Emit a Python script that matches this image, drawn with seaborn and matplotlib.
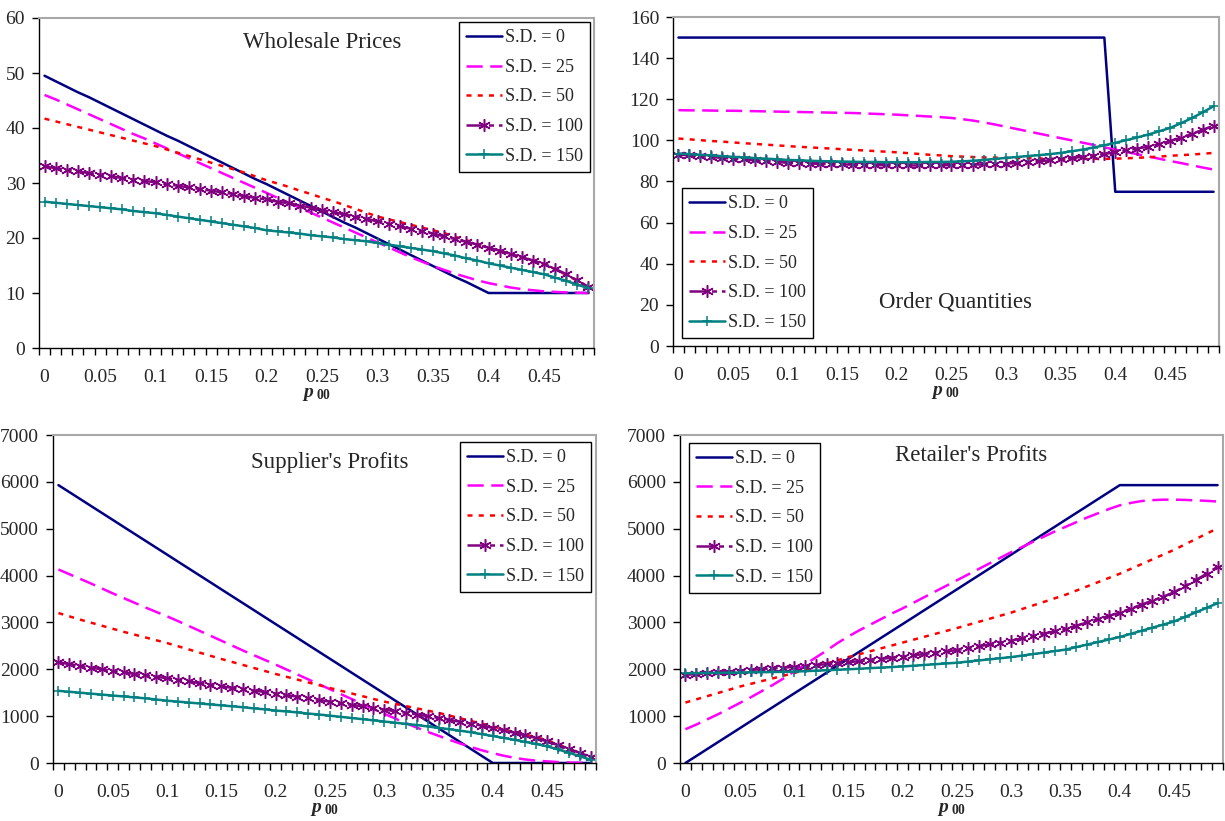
import numpy as np
import pandas as pd
import matplotlib
matplotlib.use("Agg")
import matplotlib.pyplot as plt
import seaborn as sns

# ---------------- data ----------------
P00 = [0.00, 0.01, 0.02, 0.03, 0.04, 0.05, 0.06, 0.07, 0.08, 0.09,
       0.10, 0.11, 0.12, 0.13, 0.14, 0.15, 0.16, 0.17, 0.18, 0.19,
       0.20, 0.21, 0.22, 0.23, 0.24, 0.25, 0.26, 0.27, 0.28, 0.29,
       0.30, 0.31, 0.32, 0.33, 0.34, 0.35, 0.36, 0.37, 0.38, 0.39,
       0.40, 0.41, 0.42, 0.43, 0.44, 0.45, 0.46, 0.47, 0.48, 0.49]
TICK_POS = [0.00, 0.05, 0.10, 0.15, 0.20, 0.25, 0.30, 0.35, 0.40, 0.45]
TICK_LABELS = ["0", "0.05", "0.1", "0.15", "0.2", "0.25", "0.3", "0.35", "0.4", "0.45"]
SERIES = ["S.D. = 0", "S.D. = 25", "S.D. = 50", "S.D. = 100", "S.D. = 150"]

# Wholesale Prices
wp_sd0 = [49.5, 48.5, 47.5, 46.5, 45.6, 44.6, 43.6, 42.6, 41.6, 40.6,
          39.6, 38.6, 37.7, 36.7, 35.7, 34.7, 33.7, 32.7, 31.7, 30.7,
          29.8, 28.8, 27.8, 26.8, 25.8, 24.8, 23.8, 22.8, 21.9, 20.9,
          19.9, 18.9, 17.9, 16.9, 15.9, 14.9, 13.9, 12.9, 12.0, 11.0,
          10.0, 10.0, 10.0, 10.0, 10.0, 10.0, 10.0, 10.0, 10.0, 10.0]
wp_sd25 = [46.0, 45.2, 44.3, 43.4, 42.5, 41.6, 40.7, 39.8, 38.9, 38.1,
           37.2, 36.3, 35.4, 34.5, 33.6, 32.7, 31.8, 30.9, 30.0, 29.1,
           28.2, 27.3, 26.4, 25.5, 24.6, 23.7, 22.8, 21.9, 21.0, 20.1,
           19.2, 18.3, 17.4, 16.5, 15.7, 14.9, 14.2, 13.5, 12.9, 12.3,
           11.8, 11.4, 11.0, 10.7, 10.5, 10.3, 10.2, 10.1, 10.05, 10.0]
wp_sd50 = [41.7, 41.2, 40.7, 40.2, 39.7, 39.2, 38.7, 38.2, 37.7, 37.2,
           36.7, 36.1, 35.5, 34.9, 34.3, 33.7, 33.1, 32.5, 31.9, 31.2,
           30.5, 29.9, 29.3, 28.6, 28.0, 27.3, 26.7, 26.0, 25.3, 24.6,
           23.9, 23.4, 22.9, 22.4, 21.9, 21.4, 20.9, 20.2, 19.6, 18.9,
           18.2, 17.6, 17.0, 16.5, 15.9, 15.3, 14.3, 13.3, 12.2, 11.1]
wp_sd100 = [33.0, 32.7, 32.4, 32.1, 31.8, 31.5, 31.2, 30.9, 30.6, 30.4,
            30.1, 29.8, 29.5, 29.2, 28.9, 28.6, 28.3, 28.0, 27.6, 27.3,
            27.0, 26.6, 26.3, 25.9, 25.5, 25.1, 24.7, 24.3, 23.9, 23.5,
            23.0, 22.6, 22.1, 21.7, 21.2, 20.8, 20.3, 19.8, 19.3, 18.8,
            18.2, 17.7, 17.1, 16.5, 15.9, 15.3, 14.4, 13.4, 12.3, 11.1]
wp_sd150 = [26.6, 26.4, 26.2, 26.0, 25.8, 25.6, 25.4, 25.2, 24.9, 24.7,
            24.5, 24.2, 23.9, 23.6, 23.3, 23.0, 22.7, 22.4, 22.1, 21.8,
            21.4, 21.2, 21.0, 20.8, 20.5, 20.3, 20.1, 19.8, 19.6, 19.4,
            19.1, 18.8, 18.5, 18.2, 17.9, 17.6, 17.2, 16.8, 16.3, 15.9,
            15.4, 15.0, 14.6, 14.2, 13.8, 13.4, 12.8, 12.2, 11.5, 10.9]

# Order Quantities
oq_sd0 = [150, 150, 150, 150, 150, 150, 150, 150, 150, 150,
          150, 150, 150, 150, 150, 150, 150, 150, 150, 150,
          150, 150, 150, 150, 150, 150, 150, 150, 150, 150,
          150, 150, 150, 150, 150, 150, 150, 150, 150, 150,
          75, 75, 75, 75, 75, 75, 75, 75, 75, 75]
oq_sd25 = [114.7, 114.6, 114.6, 114.5, 114.4, 114.4, 114.3, 114.2, 114.1, 114.0,
           113.9, 113.8, 113.7, 113.6, 113.5, 113.4, 113.3, 113.1, 112.9, 112.7,
           112.5, 112.2, 111.9, 111.6, 111.3, 110.9, 110.3, 109.6, 108.7, 107.7,
           106.6, 105.5, 104.4, 103.3, 102.2, 101.1, 100.0, 98.9, 97.8, 96.6,
           95.5, 94.4, 93.3, 92.2, 91.1, 90.0, 89.0, 87.9, 86.8, 85.8]
oq_sd50 = [100.9, 100.5, 100.1, 99.7, 99.4, 99.0, 98.6, 98.3, 97.9, 97.6,
           97.2, 96.9, 96.6, 96.3, 96.0, 95.7, 95.4, 95.1, 94.8, 94.5,
           94.2, 93.8, 93.4, 93.0, 92.7, 92.3, 92.1, 91.9, 91.7, 91.6,
           91.5, 91.4, 91.3, 91.2, 91.1, 91.0, 91.0, 91.0, 91.0, 91.0,
           91.1, 91.3, 91.5, 91.8, 92.1, 92.5, 92.8, 93.1, 93.5, 93.9]
oq_sd100 = [93.1, 92.7, 92.3, 91.9, 91.5, 91.1, 90.7, 90.3, 89.9, 89.5,
            89.1, 88.9, 88.7, 88.6, 88.4, 88.3, 88.2, 88.1, 88.0, 87.9,
            87.8, 87.8, 87.8, 87.8, 87.9, 88.0, 88.1, 88.2, 88.3, 88.5,
            88.7, 89.0, 89.4, 89.8, 90.3, 90.8, 91.4, 92.0, 92.6, 93.4,
            94.2, 95.1, 96.0, 96.9, 98.1, 99.6, 101.3, 103.1, 105.1, 107.2]
oq_sd150 = [93.6, 93.3, 93.0, 92.7, 92.3, 92.0, 91.7, 91.4, 91.1, 90.8,
            90.5, 90.3, 90.1, 89.9, 89.8, 89.7, 89.6, 89.5, 89.5, 89.4,
            89.4, 89.4, 89.4, 89.5, 89.5, 89.6, 89.8, 90.1, 90.5, 91.0,
            91.5, 91.9, 92.4, 92.8, 93.3, 93.9, 94.7, 95.5, 96.5, 97.6,
            98.8, 100.1, 101.4, 102.8, 104.4, 106.0, 108.3, 110.8, 113.6, 116.6]

# Supplier's Profits
sp_sd0 = [5930, 5782, 5634, 5485, 5337, 5189, 5040, 4892, 4744, 4596,
          4448, 4299, 4151, 4003, 3855, 3706, 3558, 3410, 3262, 3113,
          2965, 2817, 2669, 2520, 2372, 2224, 2076, 1927, 1779, 1631,
          1483, 1334, 1186, 1038, 890, 741, 593, 445, 297, 148,
          0, 0, 0, 0, 0, 0, 0, 0, 0, 0]
sp_sd25 = [4130, 4030, 3930, 3830, 3725, 3620, 3520, 3420, 3320, 3225,
           3130, 3030, 2925, 2820, 2715, 2610, 2505, 2400, 2300, 2200,
           2100, 1995, 1890, 1785, 1680, 1575, 1470, 1365, 1260, 1155,
           1050, 950, 850, 755, 665, 580, 495, 415, 340, 270,
           210, 155, 110, 75, 50, 35, 20, 10, 5, 0]
sp_sd50 = [3200, 3130, 3060, 2995, 2930, 2865, 2800, 2740, 2680, 2620,
           2560, 2492, 2424, 2356, 2288, 2220, 2156, 2092, 2028, 1964,
           1900, 1840, 1780, 1720, 1660, 1600, 1542, 1484, 1426, 1368,
           1310, 1262, 1214, 1166, 1118, 1070, 1012, 954, 896, 838,
           780, 722, 664, 606, 548, 490, 400, 310, 215, 120]
sp_sd100 = [2150, 2110, 2070, 2035, 2000, 1965, 1935, 1900, 1870, 1840,
            1810, 1775, 1740, 1705, 1670, 1635, 1605, 1575, 1545, 1515,
            1480, 1450, 1415, 1380, 1345, 1310, 1275, 1240, 1210, 1175,
            1140, 1105, 1070, 1035, 1000, 960, 920, 880, 840, 795,
            750, 700, 645, 590, 530, 460, 380, 300, 215, 130]
sp_sd150 = [1540, 1520, 1500, 1480, 1460, 1440, 1420, 1400, 1380, 1355,
            1330, 1310, 1290, 1270, 1250, 1230, 1210, 1190, 1165, 1145,
            1120, 1100, 1080, 1055, 1035, 1010, 985, 960, 935, 910,
            885, 860, 835, 810, 780, 750, 720, 690, 655, 615,
            575, 535, 495, 450, 405, 355, 290, 220, 145, 70]

# Retailer's Profits
rp_sd0 = [0, 148, 297, 445, 593, 741, 890, 1038, 1186, 1334,
          1483, 1631, 1779, 1927, 2076, 2224, 2372, 2520, 2669, 2817,
          2965, 3113, 3262, 3410, 3558, 3706, 3855, 4003, 4151, 4299,
          4448, 4596, 4744, 4892, 5040, 5189, 5337, 5485, 5634, 5782,
          5930, 5930, 5930, 5930, 5930, 5930, 5930, 5930, 5930, 5930]
rp_sd25 = [720, 820, 930, 1040, 1160, 1280, 1400, 1530, 1660, 1800,
           1950, 2100, 2250, 2400, 2560, 2700, 2830, 2950, 3070, 3190,
           3300, 3420, 3540, 3660, 3780, 3900, 4020, 4140, 4260, 4380,
           4500, 4610, 4720, 4830, 4940, 5040, 5140, 5240, 5330, 5420,
           5500, 5550, 5590, 5610, 5620, 5620, 5615, 5605, 5595, 5580]
rp_sd50 = [1290, 1358, 1426, 1494, 1562, 1630, 1688, 1746, 1804, 1862,
           1920, 1988, 2056, 2124, 2192, 2260, 2322, 2384, 2446, 2508,
           2570, 2632, 2694, 2756, 2818, 2880, 2946, 3012, 3078, 3144,
           3210, 3286, 3362, 3438, 3514, 3590, 3680, 3770, 3860, 3950,
           4040, 4142, 4244, 4346, 4448, 4550, 4665, 4780, 4895, 5010]
rp_sd100 = [1880, 1898, 1916, 1934, 1952, 1970, 1986, 2002, 2018, 2034,
            2050, 2070, 2090, 2110, 2130, 2150, 2174, 2198, 2222, 2246,
            2270, 2298, 2326, 2354, 2382, 2410, 2450, 2490, 2530, 2570,
            2610, 2660, 2710, 2760, 2810, 2860, 2930, 3000, 3070, 3140,
            3210, 3295, 3380, 3465, 3550, 3645, 3775, 3905, 4040, 4190]
rp_sd150 = [1915, 1918, 1921, 1924, 1927, 1930, 1934, 1938, 1942, 1946,
            1950, 1960, 1970, 1980, 1990, 2000, 2012, 2024, 2036, 2048,
            2060, 2076, 2092, 2108, 2124, 2140, 2164, 2188, 2212, 2236,
            2260, 2292, 2324, 2356, 2388, 2420, 2474, 2528, 2582, 2636,
            2690, 2756, 2822, 2888, 2954, 3020, 3117, 3215, 3312, 3410]

# ---------------- style ----------------
sns.set_style("white")
plt.rcParams["font.family"] = ["Liberation Serif", "DejaVu Serif"]
plt.rcParams["mathtext.fontset"] = "custom"
plt.rcParams["mathtext.rm"] = "Liberation Serif"
plt.rcParams["mathtext.it"] = "Liberation Serif:italic"
plt.rcParams["mathtext.bf"] = "Liberation Serif:bold"
plt.rcParams["mathtext.bfit"] = "Liberation Serif:italic:bold"

W, H = 1225, 821
fig = plt.figure(figsize=(W / 100, H / 100), dpi=100)

STYLES = [
    dict(color="#000080", linestyle="-", marker=None, lw=1.8),
    dict(color="#FF00FF", linestyle=(0, (6.5, 3)), marker=None, lw=1.8),
    dict(color="#FF0000", linestyle=(0, (2, 2.5)), marker=None, lw=1.8),
    dict(color="#800080", linestyle=(0, (7, 2, 2, 2)), marker=(6, 2, 0), lw=1.8, ms=9),
    dict(color="#008080", linestyle="-", marker="+", lw=1.8, ms=7.5),
]

panels = [
    ((39, 18, 594, 348), [wp_sd0, wp_sd25, wp_sd50, wp_sd100, wp_sd150], 60, 10,
     "Wholesale Prices", (0.51, 0.927), "upper right", (0.993, 0.988)),
    ((673, 17, 1219, 346), [oq_sd0, oq_sd25, oq_sd50, oq_sd100, oq_sd150], 160, 20,
     "Order Quantities", (0.518, 0.134), "lower left", (0.0165, 0.024)),
    ((53, 435, 596, 763), [sp_sd0, sp_sd25, sp_sd50, sp_sd100, sp_sd150], 7000, 1000,
     "Supplier's Profits", (0.51, 0.915), "upper right", (0.991, 0.979)),
    ((680, 435, 1223, 763), [rp_sd0, rp_sd25, rp_sd50, rp_sd100, rp_sd150], 7000, 1000,
     "Retailer's Profits", (0.536, 0.939), "upper left", (0.0166, 0.976)),
]

boundaries = [p - 0.005 for p in P00] + [P00[-1] + 0.005]

for rect, series, ymax, ystep, title, tpos, lloc, lanchor in panels:
    l, t, r, b = rect
    ax = fig.add_axes([l / W, 1 - b / H, (r - l) / W, (b - t) / H])
    for name, vals, st in zip(SERIES, series, STYLES):
        df = pd.DataFrame({"p00": P00, "value": vals})
        kw = dict(color=st["color"], linestyle=st["linestyle"], linewidth=st["lw"])
        if st["marker"] is not None:
            kw.update(marker=st["marker"], markersize=st["ms"],
                      markeredgecolor=st["color"], markeredgewidth=1.1,
                      markerfacecolor=st["color"])
        sns.lineplot(data=df, x="p00", y="value", ax=ax, label=name, **kw)

    ax.set_xlim(P00[0] - 0.005, P00[-1] + 0.005)
    ax.set_ylim(0, ymax)
    ax.set_yticks(np.arange(0, ymax + 1, ystep))
    ax.set_xticks(boundaries)
    ax.set_xticklabels([])
    ax.set_xticks(TICK_POS, TICK_LABELS, minor=True)
    ax.tick_params(axis="x", which="major", direction="out", length=5, width=1, color="black")
    ax.tick_params(axis="x", which="minor", length=0, pad=15, labelsize=14)
    ax.tick_params(axis="y", direction="out", length=5, width=1, color="black", pad=5, labelsize=14)
    ax.tick_params(left=True, bottom=True)

    for s in ["left", "bottom"]:
        ax.spines[s].set_color("black")
        ax.spines[s].set_linewidth(1.0)
    for s in ["top", "right"]:
        ax.spines[s].set_color("#a8a8a8")
        ax.spines[s].set_linewidth(1.5)
    ax.grid(False)

    ax.set_ylabel("")
    ax.set_xlabel(r"$\mathbfit{p}_{\;\mathbf{00}}$", fontsize=14, labelpad=0)

    ax.text(tpos[0], tpos[1], title, transform=ax.transAxes, ha="center", va="center",
            fontsize=16.5)

    leg = ax.legend(loc=lloc, bbox_to_anchor=lanchor, borderaxespad=0, fontsize=13,
                    frameon=True, fancybox=False, framealpha=1, edgecolor="black",
                    handlelength=2.0, handletextpad=0.15, labelspacing=0.7,
                    borderpad=0.4)
    leg.get_frame().set_linewidth(1.0)

fig.savefig("out.png", dpi=100)
